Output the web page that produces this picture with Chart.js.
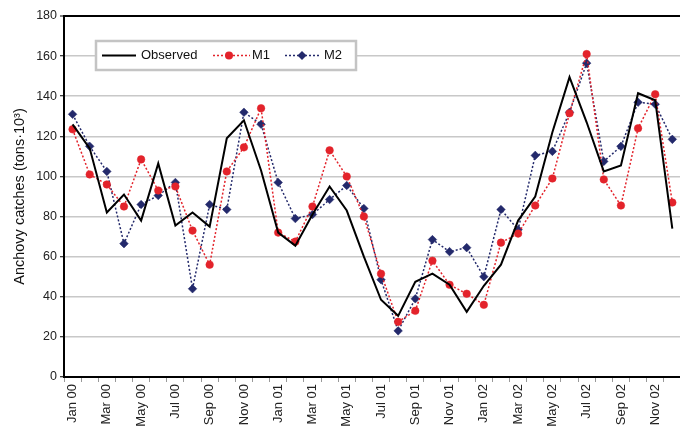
<!DOCTYPE html>
<html><head><meta charset="utf-8">
<script src="https://cdn.jsdelivr.net/npm/chart.js@4.4.0/dist/chart.umd.min.js"></script>
<style>
html,body{margin:0;padding:0;background:#fff;overflow:hidden;width:680px;height:429px;}
#wrap{position:relative;width:690px;height:429px;}
</style></head><body>
<div id="wrap"><canvas id="c"></canvas></div>
<script>
const categories = ['Jan 00','Feb 00','Mar 00','Apr 00','May 00','Jun 00','Jul 00','Aug 00','Sep 00','Oct 00','Nov 00','Dec 00',
  'Jan 01','Feb 01','Mar 01','Apr 01','May 01','Jun 01','Jul 01','Aug 01','Sep 01','Oct 01','Nov 01','Dec 01',
  'Jan 02','Feb 02','Mar 02','Apr 02','May 02','Jun 02','Jul 02','Aug 02','Sep 02','Oct 02','Nov 02','Dec 02'];
const observed = [126,114,82,91,78,106.5,75.5,82,75,119,128,103, 72,65.5,81,95,83,60,38.5,30.5,47.5,51.5,46,32.5, 45.5,56,78,90,122,149.5,127,102.5,105.5,141.5,138,74];
const m1 = [123.5,101,96,85,108.5,93,95,73,56,102.5,114.5,134, 72,67.5,85,113,100,80,51.5,27.5,33,58,46,41.5, 36,67,71.5,85.5,99,131.5,161,98.5,85.5,124,141,87];
const m2 = [131,115,102.5,66.5,86,90.5,97,44,86,83.5,132,126, 97,79,81,88.5,95.5,84,48.5,23,39,68.5,62.5,64.5, 50,83.5,73.5,110.5,112.5,132,156.5,107.5,115,137,136,118.5];
const yTicks = [0,20,40,60,80,100,120,140,160,180];
const seriesNames = ['Observed','M1','M2'];

const FONT = "'Liberation Sans', Arial, sans-serif";
const RED = '#e3232b', NAVY = '#23296b';

const boxLegend = {
  id: 'boxLegend',
  afterDraw(chart) {
    const ctx = chart.ctx, a = chart.chartArea;
    const x0 = a.left + 32, y0 = a.top + 25, w = 260, h = 29, cy = y0 + h/2;
    ctx.save();
    ctx.fillStyle = '#fff'; ctx.fillRect(x0, y0, w, h);
    ctx.strokeStyle = '#c4c4c4'; ctx.lineWidth = 2.5; ctx.strokeRect(x0, y0, w, h);
    ctx.font = '13px ' + FONT; ctx.fillStyle = '#111'; ctx.textBaseline = 'middle';
    ctx.strokeStyle = '#000'; ctx.lineWidth = 2; ctx.setLineDash([]);
    ctx.beginPath(); ctx.moveTo(x0+6, cy); ctx.lineTo(x0+40, cy); ctx.stroke();
    ctx.fillText(seriesNames[0], x0+45, cy);
    ctx.strokeStyle = RED; ctx.lineWidth = 1.5; ctx.setLineDash([2,2]);
    ctx.beginPath(); ctx.moveTo(x0+117, cy); ctx.lineTo(x0+154, cy); ctx.stroke();
    ctx.setLineDash([]); ctx.fillStyle = RED;
    ctx.beginPath(); ctx.arc(x0+133, cy, 4, 0, Math.PI*2); ctx.fill();
    ctx.fillStyle = '#111'; ctx.fillText(seriesNames[1], x0+156, cy);
    ctx.strokeStyle = NAVY; ctx.lineWidth = 1.5; ctx.setLineDash([2,2]);
    ctx.beginPath(); ctx.moveTo(x0+189, cy); ctx.lineTo(x0+224, cy); ctx.stroke();
    ctx.setLineDash([]); ctx.fillStyle = NAVY;
    ctx.beginPath(); ctx.moveTo(x0+206, cy-4.5); ctx.lineTo(x0+210.5, cy); ctx.lineTo(x0+206, cy+4.5); ctx.lineTo(x0+201.5, cy); ctx.closePath(); ctx.fill();
    ctx.fillStyle = '#111'; ctx.fillText(seriesNames[2], x0+228, cy);
    ctx.restore();
  }
};

new Chart(document.getElementById('c'), {
  type: 'line',
  data: {
    labels: categories,
    datasets: [
      {label: seriesNames[0], data: observed, borderColor: '#000', borderWidth: 2, pointRadius: 0, tension: 0},
      {label: seriesNames[1], data: m1, borderColor: RED, borderWidth: 1.5, borderDash: [2,2], pointStyle: 'circle', pointRadius: 3.8, pointBackgroundColor: RED, pointBorderColor: RED, pointBorderWidth: 0.5, tension: 0},
      {label: seriesNames[2], data: m2, borderColor: NAVY, borderWidth: 1.5, borderDash: [2,2], pointStyle: 'rectRot', pointRadius: 4.3, pointBackgroundColor: NAVY, pointBorderColor: NAVY, pointBorderWidth: 0.5, tension: 0}
    ]
  },
  options: {
    responsive: true, maintainAspectRatio: false, animation: false,
    layout: {padding: {top: 16, right: 2, left: 0, bottom: 0}},
    plugins: {legend: {display: false}, tooltip: {enabled: false}},
    scales: {
      x: {
        offset: true,
        grid: {offset: true, drawOnChartArea: false, drawTicks: true, tickLength: 5, color: '#999', lineWidth: 1},
        border: {display: true, color: '#000', width: 2},
        ticks: {autoSkip: false, maxRotation: 90, minRotation: 90, padding: 2, color: '#222', font: {family: FONT, size: 13},
          callback: (v, i) => i % 2 === 0 ? categories[i] : ''},
        afterFit: s => { s.height = 52; }
      },
      y: {
        min: 0, max: 180,
        afterBuildTicks: s => { s.ticks = yTicks.map(v => ({value: v})); },
        grid: {color: c => c.tick && c.tick.value === 180 ? '#000' : '#c8c8c8', lineWidth: c => c.tick && c.tick.value === 180 ? 2 : 1.5, tickLength: 4, tickColor: '#000', tickWidth: 1},
        border: {display: true, color: '#000', width: 2},
        ticks: {padding: 3, color: '#222', font: {family: FONT, size: 12.5}},
        title: {display: true, text: 'Anchovy catches (tons·10³)', color: '#111', font: {family: FONT, size: 14.5}, padding: {top: 11, bottom: 0}},
        afterFit: s => { s.width = 64; }
      }
    }
  },
  plugins: [boxLegend]
});
</script>
</body></html>
